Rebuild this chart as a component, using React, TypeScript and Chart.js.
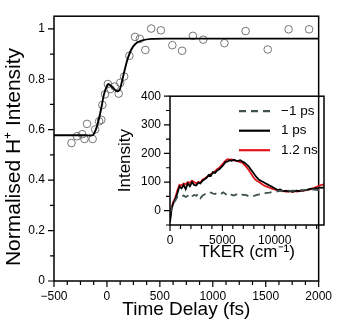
import React, { useEffect, useRef } from "react";
import { Chart, registerables } from "chart.js";

Chart.register(...registerables);

// Main panel: H+ intensity vs time delay
const delays = [-335, -283, -234, -212, -188, -135, -111, -74, -53, -43, -18, 9, 34, 74, 111, 126, 163, 212, 265, 311, 363, 418, 510, 618, 710, 812, 910, 1110, 1310, 1519, 1716, 1910];
const intensities = [0.547, 0.574, 0.582, 0.563, 0.623, 0.563, 0.601, 0.633, 0.639, 0.698, 0.74, 0.781, 0.761, 0.771, 0.743, 0.786, 0.811, 0.893, 0.968, 0.96, 0.916, 1.001, 0.994, 0.935, 0.913, 0.972, 0.957, 0.943, 0.991, 0.918, 0.998, 0.998];

const fitT = [-500, -200, -135, -104, -74, -50, -28, 3, 18, 58, 95, 120, 141, 166, 194, 228, 270, 326, 418, 600, 2000];
const fitV = [0.578, 0.578, 0.578, 0.601, 0.645, 0.693, 0.74, 0.777, 0.781, 0.765, 0.752, 0.758, 0.79, 0.834, 0.878, 0.916, 0.941, 0.953, 0.96, 0.961, 0.961];

const mainXTicks = [-500, 0, 500, 1000, 1500, 2000];
const mainYTicks = [0, 0.2, 0.4, 0.6, 0.8, 1];

// Inset: TKER spectra
const tker = [0, 150, 300, 500, 700, 900, 1100, 1300, 1500, 1700,
  1900, 2100, 2300, 2500, 2700, 2900, 3100, 3300, 3500, 3700,
  3900, 4100, 4300, 4500, 4700, 4900, 5100, 5300, 5500, 5700,
  5900, 6100, 6300, 6500, 6700, 6900, 7100, 7300, 7500, 7700,
  7900, 8100, 8300, 8500, 8700, 8900, 9100, 9300, 9500, 9700,
  9900, 10100, 10300, 10500, 10700, 10900, 11100, 11300, 11500, 11700,
  11900, 12100, 12300, 12500, 12700, 12900, 13100, 13300, 13500, 13700,
  13900, 14100, 14300, 14500, 14700];

const seriesMinus1ps = [-10, 10, 25, 35, 48, 45, 50, 53, 48, 52,
  44, 50, 55, 52, 58, 44, 52, 57, 62, 66,
  63, 60, 58, 64, 62, 60, 64, 58, 54, 60,
  55, 53, 57, 55, 52, 56, 55, 54, 50, 52,
  50, 53, 55, 57, 56, 59, 61, 62, 63, 65,
  67, 68, 68, 69, 70, 69, 70, 70, 69, 70,
  70, 71, 72, 71, 72, 73, 74, 74, 75, 74,
  73, 72, 72, 70, 69];

const series1ps = [-40, 5, 25, 40, 60, 85, 78, 90, 75, 95,
  85, 100, 90, 88, 98, 95, 105, 110, 115, 125,
  122, 135, 132, 140, 145, 152, 160, 170, 172, 176,
  174, 178, 175, 174, 176, 172, 168, 162, 155, 145,
  135, 125, 115, 108, 104, 100, 96, 92, 88, 84,
  80, 76, 72, 74, 70, 68, 70, 67, 69, 66,
  68, 70, 68, 71, 70, 72, 73, 75, 77, 76,
  79, 78, 81, 80, 82];

const series12ns = [-30, 10, 30, 45, 70, 90, 88, 95, 92, 100,
  97, 105, 100, 95, 100, 98, 108, 112, 118, 122,
  128, 133, 138, 145, 150, 158, 166, 175, 180, 178,
  179, 176, 174, 172, 170, 168, 160, 152, 143, 132,
  120, 110, 104, 100, 95, 90, 86, 83, 80, 77,
  75, 73, 72, 70, 68, 69, 66, 68, 67, 66,
  68, 67, 68, 70, 69, 71, 73, 74, 76, 79,
  82, 85, 88, 90, 92];

const insetXTicks = [0, 5000, 10000];
const insetYTicks = [0, 100, 200, 300, 400];
const insetLabels = ["\u22121 ps", "1 ps", "1.2 ns"];
const insetColors = ["#3e5050", "#000000", "#e3141c"];

const FONT = "'Liberation Sans', Arial, Helvetica, sans-serif";

const fmtNum = (v: number) => {
  const r = Math.round(v * 1000) / 1000;
  return r < 0 ? "\u2212" + String(Math.abs(r)) : String(r);
};

const setTicks = (list: number[]) => (s: any) => {
  s.ticks = list.map((value) => ({ value }));
};

const framePlugin = {
  id: "frameTicks",
  afterDraw(chart: any, _args: any, opts: any) {
    const ctx = chart.ctx;
    const { left, right, top, bottom } = chart.chartArea;
    ctx.save();
    ctx.strokeStyle = "#000";
    ctx.lineWidth = 1.2;
    const xs = chart.scales.x;
    const ys = chart.scales.y;
    const isMajor = (v: number, step: number) => Math.abs(v / step - Math.round(v / step)) < 1e-6;
    ctx.beginPath();
    for (let k = 0; xs.min + k * opts.minorX <= xs.max + 1e-9; k++) {
      const v = xs.min + k * opts.minorX;
      const p = xs.getPixelForValue(v);
      const len = isMajor(v, opts.majorX) ? opts.major : opts.minor;
      ctx.moveTo(p, bottom);
      ctx.lineTo(p, bottom + len);
    }
    for (let k = 0; ys.min + k * opts.minorY <= ys.max + 1e-9; k++) {
      const v = ys.min + k * opts.minorY;
      const p = ys.getPixelForValue(v);
      const len = isMajor(v, opts.majorY) ? opts.major : opts.minor;
      ctx.moveTo(left, p);
      ctx.lineTo(left - len, p);
    }
    ctx.stroke();
    ctx.lineWidth = 1.5;
    ctx.strokeRect(left, top, right - left, bottom - top);
    if (opts.yTitle) {
      ctx.fillStyle = "#000";
      ctx.font = opts.yTitle.font;
      ctx.textAlign = "center";
      ctx.textBaseline = "middle";
      ctx.translate(opts.yTitle.x, opts.yTitle.y);
      ctx.rotate(-Math.PI / 2);
      ctx.fillText(opts.yTitle.text, 0, 0);
    }
    ctx.restore();
  },
};

const legendPlugin = {
  id: "insetLegend",
  afterDraw(chart: any) {
    const ctx = chart.ctx;
    const { right, top } = chart.chartArea;
    ctx.save();
    ctx.font = `13.5px ${FONT}`;
    ctx.textBaseline = "middle";
    ctx.textAlign = "left";
    chart.data.datasets.forEach((ds: any, i: number) => {
      const y = top + 15 + i * 19.5;
      ctx.strokeStyle = ds.borderColor;
      ctx.lineWidth = 2.2;
      ctx.setLineDash(ds.borderDash || []);
      ctx.beginPath();
      ctx.moveTo(right - 85, y);
      ctx.lineTo(right - 54, y);
      ctx.stroke();
      ctx.setLineDash([]);
      ctx.fillStyle = "#000";
      ctx.fillText(ds.label, right - 43, y);
    });
    ctx.restore();
  },
};

export default function App() {
  const mainRef = useRef<HTMLCanvasElement>(null);
  const insetRef = useRef<HTMLCanvasElement>(null);

  useEffect(() => {
    const main = new Chart(mainRef.current!, {
      type: "scatter",
      data: {
        datasets: [
          {
            type: "line",
            data: fitT.map((t, i) => ({ x: t, y: fitV[i] })),
            borderColor: "#000",
            borderWidth: 1.9,
            pointRadius: 0,
            tension: 0.25,
            fill: false,
          } as any,
          {
            type: "scatter",
            data: delays.map((t, i) => ({ x: t, y: intensities[i] })),
            pointRadius: 3.8,
            borderColor: "#666",
            borderWidth: 0.9,
            backgroundColor: "rgba(0,0,0,0)",
          },
        ],
      },
      options: {
        animation: false,
        responsive: false,
        maintainAspectRatio: false,
        layout: { padding: { left: 0, top: 3, right: 15, bottom: 0 } },
        plugins: {
          legend: { display: false },
          tooltip: { enabled: false },
          frameTicks: {
            major: 6,
            minor: 4,
            majorX: 500,
            minorX: 125,
            majorY: 0.2,
            minorY: 0.1,
            yTitle: { text: "Normalised H\u207A Intensity", x: 14, y: 157, font: `21px ${FONT}` },
          },
        } as any,
        scales: {
          x: {
            type: "linear",
            min: -500,
            max: 2000,
            afterBuildTicks: setTicks(mainXTicks),
            afterFit: (s: any) => { s.height = 42; },
            ticks: {
              autoSkip: false,
              maxRotation: 0,
              padding: 8,
              color: "#000",
              font: { family: FONT, size: 12 },
              callback: (v: any) => fmtNum(v),
            },
            grid: { display: false, drawTicks: false },
            border: { display: false },
            title: {
              display: true,
              text: "Time Delay (fs)",
              color: "#000",
              font: { family: FONT, size: 19 },
              padding: { top: 0, bottom: 2 },
            },
          },
          y: {
            type: "linear",
            min: 0,
            max: 1.05,
            afterBuildTicks: setTicks(mainYTicks),
            afterFit: (s: any) => { s.width = 54; },
            ticks: {
              autoSkip: false,
              padding: 9,
              color: "#000",
              font: { family: FONT, size: 12 },
              callback: (v: any) => fmtNum(v),
            },
            grid: { display: false, drawTicks: false },
            border: { display: false },
          },
        },
      },
      plugins: [framePlugin],
    });

    const dashes = [[7, 5], [], []];
    const series = [seriesMinus1ps, series1ps, series12ns];
    const inset = new Chart(insetRef.current!, {
      type: "line",
      data: {
        datasets: series.map((s, k) => ({
          label: insetLabels[k],
          data: tker.map((x, i) => ({ x, y: s[i] })),
          borderColor: insetColors[k],
          borderWidth: 1.8,
          borderDash: dashes[k],
          pointRadius: 0,
          tension: 0,
          fill: false,
        })),
      },
      options: {
        animation: false,
        responsive: false,
        maintainAspectRatio: false,
        layout: { padding: { left: 0, top: 10, right: 16, bottom: 0 } },
        plugins: {
          legend: { display: false },
          tooltip: { enabled: false },
          frameTicks: { major: 6, minor: 4, majorX: 5000, minorX: 1000, majorY: 100, minorY: 50 },
        } as any,
        scales: {
          x: {
            type: "linear",
            min: 0,
            max: 14700,
            afterBuildTicks: setTicks(insetXTicks),
            afterFit: (s: any) => { s.height = 55; },
            ticks: {
              autoSkip: false,
              maxRotation: 0,
              padding: 8,
              color: "#000",
              font: { family: FONT, size: 12 },
              callback: (v: any) => fmtNum(v),
            },
            grid: { display: false, drawTicks: false },
            border: { display: false },
            title: {
              display: true,
              text: "TKER (cm\u207B\u00B9)",
              color: "#000",
              font: { family: FONT, size: 17 },
              padding: { top: 0, bottom: 17 },
            },
          },
          y: {
            type: "linear",
            min: -50,
            max: 400,
            afterBuildTicks: setTicks(insetYTicks),
            afterFit: (s: any) => { s.width = 70; },
            ticks: {
              autoSkip: false,
              padding: 9,
              color: "#000",
              font: { family: FONT, size: 12 },
              callback: (v: any) => fmtNum(v),
            },
            grid: { display: false, drawTicks: false },
            border: { display: false },
            title: {
              display: true,
              text: "Intensity",
              color: "#000",
              font: { family: FONT, size: 17 },
              padding: { top: 15, bottom: 0 },
            },
          },
        },
      },
      plugins: [framePlugin, legendPlugin],
    });

    return () => {
      main.destroy();
      inset.destroy();
    };
  }, []);

  return (
    <div style={{ position: "fixed", left: 0, top: 0, width: 340, height: 323, background: "#fff" }}>
      <canvas ref={mainRef} width={340} height={323} style={{ position: "absolute", left: 0, top: 0, width: 340, height: 323 }} />
      <canvas ref={insetRef} width={240} height={200} style={{ position: "absolute", left: 100, top: 80, width: 240, height: 200 }} />
    </div>
  );
}
